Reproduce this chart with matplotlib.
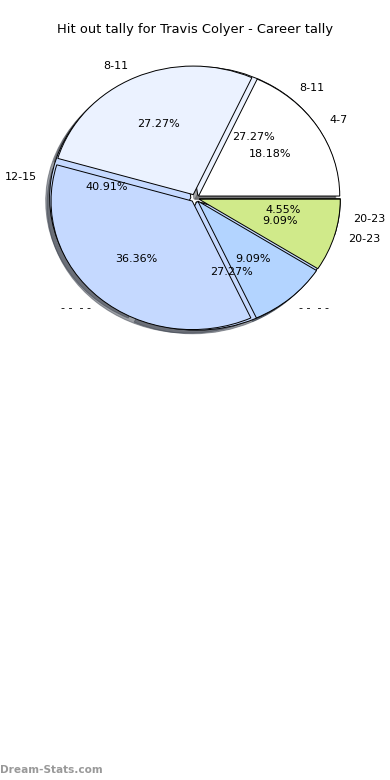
import matplotlib
matplotlib.use("Agg")
import matplotlib.pyplot as plt
from matplotlib.patches import Rectangle

# outer (drawn first) pie
labels2 = ["8-11", "12-15", "", "20-23"]
counts2 = [6, 9, 6, 1]
colors2 = ["#ebf2ff", "#c5d9ff", "#c5d9ff", "#d0ea8a"]

# front pie
labels1 = ["4-7", "8-11", "- -  - -", "- -  - -", "20-23"]
counts1 = [4, 6, 8, 2, 2]
colors1 = ["#ffffff", "#ebf2ff", "#c5d9ff", "#b3d4ff", "#d0ea8a"]

title = "Hit out tally for Travis Colyer - Career tally"

fig = plt.figure(figsize=(3.9, 7.8), dpi=100)
ax = fig.add_axes([0.0475, 0.540, 0.905, 0.412])

wp = dict(edgecolor="black", linewidth=0.7)
tp = dict(fontsize=8)

ax.pie(counts2, labels=labels2, colors=colors2, autopct="%.2f%%",
       explode=[0.03] * len(counts2), shadow=True, startangle=0,
       wedgeprops=wp, textprops=tp)
w1, t1, a1 = ax.pie(counts1, labels=labels1, colors=colors1, autopct="%.2f%%",
                    explode=[0.03] * len(counts1), shadow=True, startangle=0,
                    wedgeprops=wp, textprops=tp)

# the 4th wedge looks cut flat at the bottom in the original
clip = Rectangle((-1.3, -0.82), 2.6, 2.2, transform=ax.transData)
w1[3].set_clip_path(clip)

ax.set_aspect("auto")
ax.set_xlim(-1.25, 1.25)
ax.set_ylim(-1.25, 1.25)
ax.axis("off")

fig.text(0.5, 1 - 30 / 780, title, ha="center", va="center", fontsize=9.4)
fig.text(0.0, 1 - 770 / 780, "Dream-Stats.com", ha="left", va="center",
         fontsize=7.6, color="#999999", fontweight="bold")

fig.savefig("out.png", dpi=100)
plt.close(fig)
